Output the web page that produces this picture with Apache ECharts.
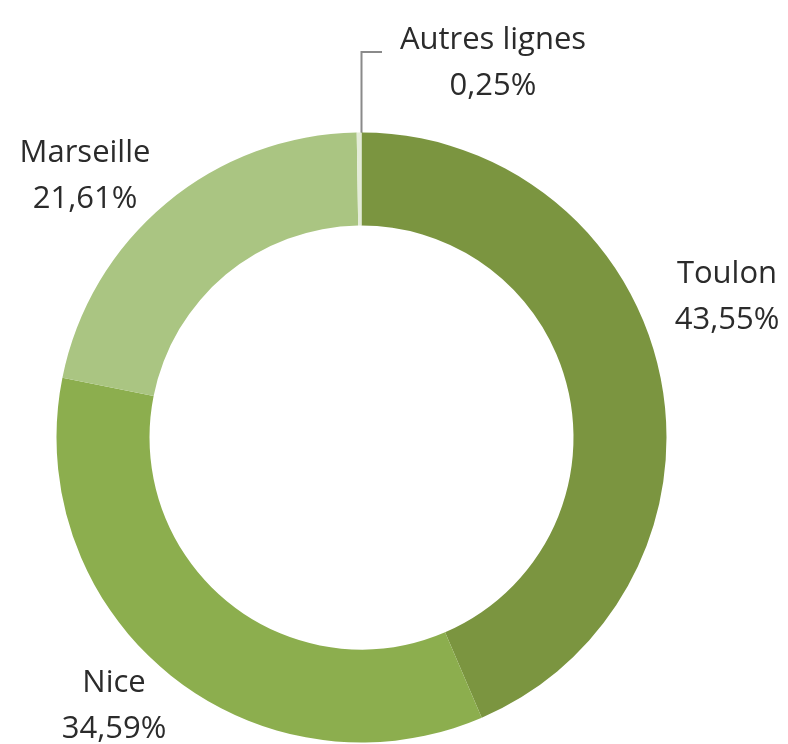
<!DOCTYPE html>
<html lang="fr">

<head>
    <meta charset="UTF-8">
    <title>Répartition par ligne</title>
    <script type="text/javascript" src="https://cdn.jsdelivr.net/npm/echarts@6/dist/echarts.min.js"></script>
    <style>
        html,
        body {
            margin: 0;
            padding: 0;
            width: 100%;
            height: 100%;
            background: #fff;
        }

        #container {
            width: 788px;
            height: 744px;
        }
    </style>
</head>

<body>
    <div id="container"></div>
    <script>
        // slices, clockwise from 12 o'clock
        let names = ['Toulon', 'Nice', 'Marseille', 'Autres lignes'];
        let shares = [43.55, 34.59, 21.61, 0.25];
        let colors = ['#7b9540', '#8cae4e', '#aac582', '#e4ecd8'];

        // where each label block sits (centre of the two lines)
        let labelSpots = [
            [727, 297],
            [114, 706],
            [85, 176],
            [493, 63],
        ];

        let chart = echarts.init(document.getElementById('container'));

        let data = names.map((name, i) => {
            let item = {
                name: name,
                value: shares[i],
                itemStyle: { color: colors[i] },
            };
            if (name === 'Autres lignes') {
                item.labelLine = {
                    show: true,
                    lineStyle: { color: '#8a8a8a', width: 2 },
                };
            }
            return item;
        });

        let option = {
            animation: false,
            series: [{
                type: 'pie',
                center: [361.5, 437.5],
                radius: [212, 305],
                startAngle: 90,
                clockwise: true,
                avoidLabelOverlap: false,
                itemStyle: { borderWidth: 0 },
                emphasis: { disabled: true },
                label: {
                    show: true,
                    position: 'outside',
                    fontFamily: '"Open Sans", sans-serif',
                    fontSize: 31,
                    lineHeight: 46,
                    color: '#2b2b2b',
                    align: 'center',
                    formatter: p => p.name + '\n' + p.value.toFixed(2).replace('.', ',') + '%',
                },
                labelLine: { show: false },
                labelLayout: params => {
                    let spot = labelSpots[params.dataIndex];
                    let out = {
                        x: spot[0],
                        y: spot[1],
                        align: 'center',
                        verticalAlign: 'middle',
                        hideOverlap: false,
                    };
                    if (params.dataIndex === 3) {
                        out.labelLinePoints = [
                            [361.5, 133],
                            [361.5, 52],
                            [382, 52],
                        ];
                    }
                    return out;
                },
                data: data,
            }],
        };

        chart.setOption(option);
    </script>
</body>

</html>
